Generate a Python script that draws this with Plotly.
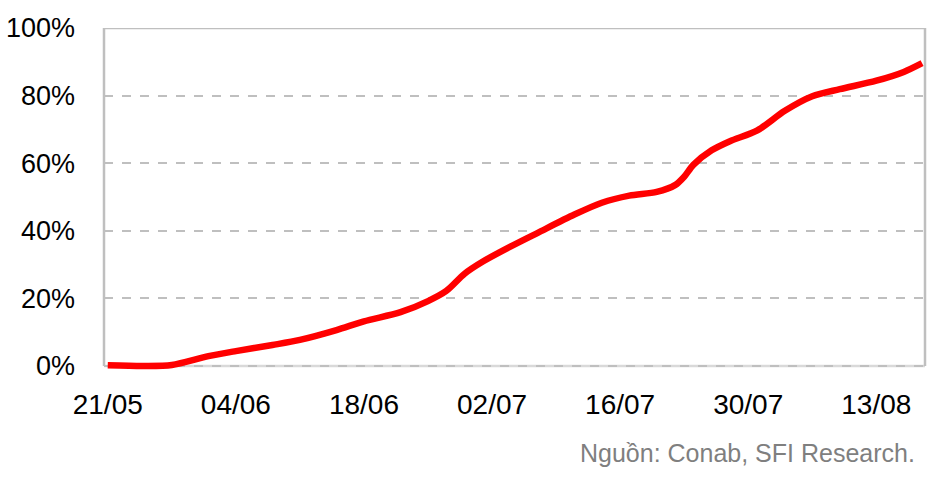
import plotly.graph_objects as go
import pandas as pd

# days after 21/05 and planted share (%)
days = [0, 4, 7, 11, 14, 18, 21, 25, 28, 32, 35, 37, 39, 41, 44, 47, 51, 54,
        57, 60, 62, 63, 64, 66, 68, 71, 74, 77, 80, 84, 87, 89]
progress = [0.2, 0.0, 0.3, 2.9, 4.4, 6.2, 7.7, 10.6, 13.2, 15.9, 19.2, 22.2,
            27.3, 30.9, 35.3, 39.4, 44.8, 48.3, 50.4, 51.5, 53.5, 56.0, 59.5,
            63.8, 66.5, 69.7, 75.5, 79.8, 81.9, 84.4, 87.0, 89.6]

tick_dates = ["2024-05-21", "2024-06-04", "2024-06-18", "2024-07-02",
              "2024-07-16", "2024-07-30", "2024-08-13"]
tick_labels = ["21/05", "04/06", "18/06", "02/07", "16/07", "30/07", "13/08"]
y_ticks = [0, 20, 40, 60, 80, 100]
y_labels = ["0%", "20%", "40%", "60%", "80%", "100%"]

dates = pd.Timestamp("2024-05-21") + pd.to_timedelta(days, unit="D")

FONT = "Liberation Sans, Arial, sans-serif"

fig = go.Figure()
fig.add_trace(go.Scatter(
    x=dates, y=progress,
    mode="lines",
    line=dict(color="#FF0000", width=6.5, shape="spline", smoothing=0.8),
    hoverinfo="skip",
))

border = "#BFBFBF"
fig.update_layout(
    width=940, height=478,
    margin=dict(l=103.5, r=14.5, t=28, b=107.6),
    paper_bgcolor="white", plot_bgcolor="white",
    showlegend=False,
    xaxis=dict(
        type="date",
        range=["2024-05-20 14:10", "2024-08-18 07:40"],
        tickvals=tick_dates, ticktext=tick_labels,
        showgrid=False, zeroline=False, showline=False, automargin=False,
        tickfont=dict(family=FONT, size=28, color="black"),
        ticks="", ticklabelstandoff=15,
    ),
    yaxis=dict(
        range=[-1.2, 100],
        tickvals=y_ticks, ticktext=y_labels,
        showgrid=True, gridcolor=border, gridwidth=2, griddash="9px,9px",
        zeroline=False, showline=False, automargin=False,
        tickfont=dict(family=FONT, size=27, color="black"),
        ticks="", ticklabelstandoff=28,
    ),
    shapes=[
        dict(type="line", xref="paper", yref="y", x0=0, x1=1, y0=0, y1=0,
             line=dict(color="#D9D9D9", width=2.5), layer="below"),
        dict(type="line", xref="paper", yref="y", x0=0, x1=1, y0=100, y1=100,
             line=dict(color=border, width=2.5), layer="below"),
        dict(type="line", xref="paper", yref="y", x0=0, x1=0, y0=0, y1=100,
             line=dict(color=border, width=2.5), layer="below"),
        dict(type="line", xref="paper", yref="y", x0=1, x1=1, y0=0, y1=100,
             line=dict(color=border, width=2.5), layer="below"),
    ],
    annotations=[
        dict(text="Nguồn: Conab, SFI Research.", xref="paper", yref="paper",
             x=0.9897, y=-0.244, xanchor="right", yanchor="middle",
             showarrow=False,
             font=dict(family=FONT, size=25, color="#7F7F7F")),
    ],
)

fig.write_html("out.html", config={"displayModeBar": False},
               post_script="document.body.style.margin='0';")
